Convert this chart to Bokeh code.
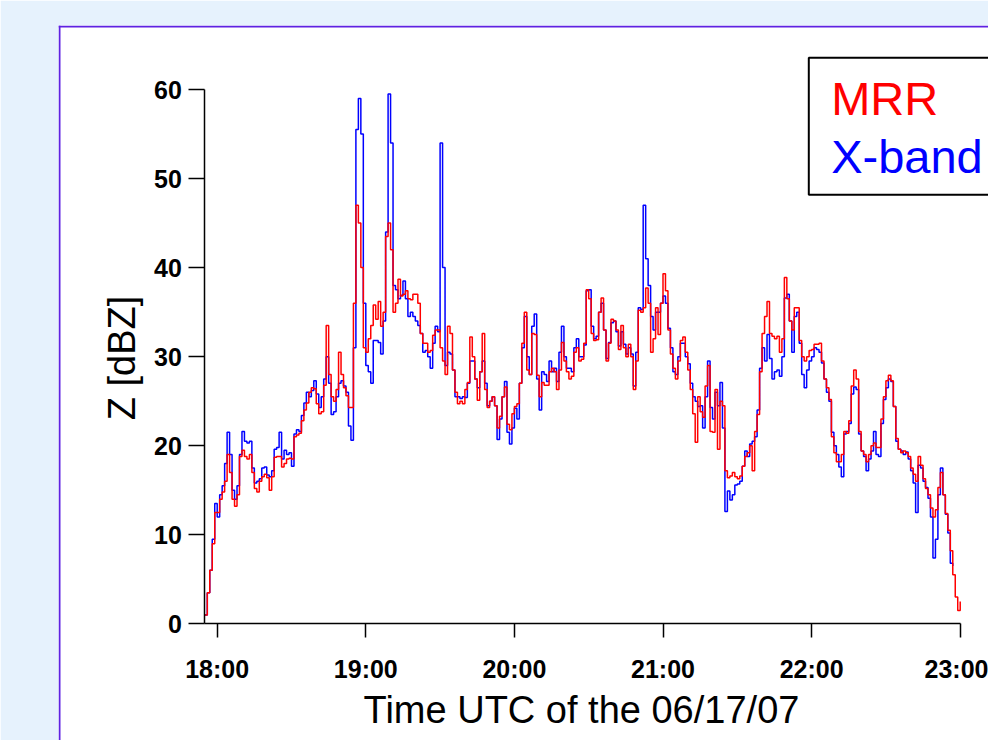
import numpy as np
from math import pi
from bokeh.plotting import figure
from bokeh.models import Range1d, LinearAxis, FixedTicker, Span, Label
from bokeh.embed import file_html
from bokeh.resources import INLINE

# ---------------- data ----------------
start_minute = -5          # first sample, minutes after 18:00 UTC
step_minutes = 1           # one sample per minute

mrr = [
    1.0, 3.5, 6.0, 9.0, 12.5, 12.5, 14.0, 14.8, 16.0, 19.0,
    17.0, 14.0, 13.2, 14.5, 18.8, 19.5, 18.8, 18.5, 19.0, 17.0,
    15.2, 14.8, 16.0, 16.5, 16.8, 16.4, 15.0, 16.5, 18.7, 18.8,
    18.8, 17.6, 18.0, 18.5, 18.6, 18.5, 21.0, 21.2, 21.4, 22.8,
    24.0, 24.8, 26.0, 26.5, 26.4, 24.7, 23.6, 23.8, 26.8, 33.5,
    28.0, 25.5, 25.0, 26.3, 30.5, 28.0, 26.5, 25.6, 24.3, 24.3,
    36.0, 47.0, 45.0, 40.0, 31.0, 30.5, 32.0, 33.5, 35.8, 34.2,
    36.2, 33.4, 35.0, 43.5, 45.0, 42.0, 35.0, 36.0, 38.7, 36.8,
    37.0, 37.4, 36.5, 36.4, 37.0, 37.0, 36.0, 32.6, 31.5, 31.5,
    30.5, 30.7, 32.4, 33.0, 33.0, 31.0, 29.5, 28.0, 33.4, 32.6,
    28.5, 26.0, 24.7, 25.0, 24.7, 26.3, 27.1, 32.2, 30.0, 27.5,
    25.1, 28.3, 32.6, 26.3, 24.3, 25.0, 25.5, 24.5, 22.0, 23.3,
    25.5, 26.6, 22.4, 21.8, 23.6, 24.4, 24.7, 27.0, 31.5, 35.0,
    28.5, 28.0, 32.6, 32.5, 27.9, 25.5, 27.1, 26.8, 26.8, 28.3,
    28.7, 28.3, 26.3, 28.5, 31.6, 29.5, 28.3, 27.5, 27.8, 30.5,
    31.0, 29.5, 29.7, 31.5, 37.5, 36.5, 32.6, 31.8, 31.9, 35.0,
    36.6, 33.0, 29.5, 31.5, 34.2, 34.0, 33.0, 30.8, 33.5, 31.0,
    30.0, 31.4, 30.0, 26.3, 29.5, 35.2, 35.0, 35.5, 37.7, 36.0,
    30.5, 32.0, 35.5, 32.5, 36.0, 39.3, 37.4, 33.0, 30.3, 28.7,
    27.5, 29.5, 31.8, 32.2, 30.5, 28.5, 26.3, 23.6, 20.4, 25.5,
    23.8, 23.2, 26.7, 29.0, 21.6, 21.5, 26.3, 19.6, 25.0, 24.5,
    17.2, 16.4, 16.6, 17.0, 16.5, 16.3, 16.6, 17.7, 18.8, 19.2,
    20.0, 17.2, 21.6, 23.5, 28.3, 32.6, 34.5, 36.2, 32.6, 32.3,
    32.0, 32.3, 30.5, 32.0, 38.9, 36.5, 34.0, 33.0, 35.5, 35.5,
    31.8, 30.0, 29.5, 30.0, 30.7, 30.8, 31.4, 31.4, 31.5, 29.5,
    27.5, 26.5, 25.2, 21.0, 19.2, 18.2, 18.2, 19.0, 21.6, 21.4,
    22.8, 26.7, 28.5, 27.5, 21.6, 19.4, 19.0, 18.2, 19.0, 20.0,
    20.3, 19.8, 19.8, 23.0, 25.5, 27.3, 27.9, 27.3, 24.4, 20.8,
    19.6, 19.2, 19.4, 19.2, 18.8, 17.5, 16.8, 16.0, 18.8, 17.8,
    16.3, 15.2, 14.5, 13.0, 12.0, 12.8, 15.3, 17.0, 14.5, 12.4,
    10.5, 8.2, 5.5, 3.0, 1.5, 2.5,
]

xband = [
    1.0, 3.5, 6.0, 9.5, 13.5, 12.0, 14.5, 15.5, 18.0, 21.5,
    19.0, 15.0, 14.0, 15.5, 19.0, 21.6, 20.5, 20.3, 20.5, 17.5,
    15.8, 16.0, 16.3, 17.5, 17.6, 16.7, 16.5, 17.2, 19.6, 19.8,
    21.5, 18.5, 19.5, 19.0, 19.2, 17.7, 21.3, 21.8, 21.6, 23.4,
    24.8, 26.0, 25.5, 26.2, 27.3, 25.8, 24.3, 25.5, 27.5, 30.0,
    27.0, 23.5, 23.8, 25.5, 27.0, 27.3, 26.7, 26.0, 22.2, 20.6,
    31.0, 55.5, 59.0, 55.0, 36.0, 29.0, 28.3, 27.0, 31.8, 31.8,
    31.6, 30.3, 34.0, 44.0, 59.5, 54.0, 38.0, 37.5, 36.5, 36.9,
    38.5, 36.5, 34.5, 35.0, 34.5, 34.0, 33.5, 32.6, 30.5, 30.7,
    30.0, 28.7, 31.5, 33.4, 32.8, 54.0, 40.0, 29.0, 30.5, 30.3,
    28.5, 25.5, 25.5, 25.3, 25.5, 25.4, 27.0, 29.5, 29.5, 27.5,
    26.5, 28.3, 29.5, 27.0, 24.5, 25.0, 25.5, 24.5, 20.7, 23.0,
    25.5, 27.2, 21.5, 20.2, 22.0, 24.2, 23.0, 27.0, 31.0, 34.5,
    30.0, 28.0, 33.4, 34.8, 27.5, 24.0, 28.3, 28.0, 27.2, 29.5,
    28.3, 28.7, 27.2, 30.5, 33.4, 30.0, 28.7, 28.7, 28.3, 31.0,
    32.0, 30.0, 30.0, 31.3, 37.4, 37.5, 33.4, 32.0, 32.3, 35.0,
    36.0, 33.0, 29.8, 31.6, 33.8, 34.0, 32.8, 31.2, 32.8, 31.4,
    30.3, 31.0, 30.3, 26.7, 30.5, 35.5, 35.3, 47.0, 41.0, 38.0,
    34.5, 33.0, 35.0, 35.0, 36.0, 36.8, 36.0, 33.2, 31.0, 28.3,
    28.0, 30.0, 31.5, 31.5, 30.0, 29.2, 27.0, 25.5, 25.0, 24.4,
    24.5, 22.0, 25.5, 29.5, 24.3, 23.0, 26.0, 24.5, 27.1, 22.0,
    12.6, 14.9, 13.9, 14.5, 15.6, 15.7, 16.0, 17.7, 19.4, 18.8,
    20.2, 20.5, 21.0, 24.0, 28.7, 31.0, 29.5, 32.5, 29.8, 27.5,
    28.3, 28.5, 27.8, 30.0, 36.6, 37.0, 34.0, 30.5, 34.5, 35.0,
    31.5, 28.0, 26.5, 28.5, 29.5, 30.0, 31.0, 30.8, 30.5, 29.3,
    27.5, 26.0, 25.0, 21.5, 20.0, 19.0, 17.6, 16.5, 21.3, 21.6,
    22.5, 25.8, 26.6, 26.3, 21.3, 19.4, 18.8, 17.2, 18.5, 19.4,
    21.6, 19.0, 18.8, 22.5, 25.2, 26.5, 27.5, 27.2, 24.4, 20.5,
    19.6, 19.4, 19.0, 19.3, 18.5, 17.2, 15.8, 12.5, 17.8, 17.5,
    16.0, 15.3, 14.1, 12.0, 7.4, 9.5, 14.5, 17.5, 14.5, 12.3,
    10.2, 6.8, 6.5,
]

x_tick_hours = [18, 19, 20, 21, 22, 23]
x_tick_labels = ["18:00", "19:00", "20:00", "21:00", "22:00", "23:00"]
y_ticks = [0, 10, 20, 30, 40, 50, 60]
x_title = "Time UTC of the 06/17/07"
y_title = "Z [dBZ]"
series_names = ["MRR", "X-band"]
series_colors = ["#ff0000", "#0000ff"]

# ---------------- layout / style ----------------
BG = "#e6f2fd"
PANEL_EDGE = "#5e22e2"
FONT = "Liberation Sans"
W, H = 988, 740

PX_PER_HR = 148.6      # px per hour
X18 = 216.7            # x of 18:00
PX_PER_DB = 8.905      # px per dBZ
Y0 = 623.3             # y of 0 dBZ


def hx(px):
    return 18 + (px - X18) / PX_PER_HR


def vy(py):
    return (Y0 - py) / PX_PER_DB


t_mrr = 18 + (start_minute + step_minutes * np.arange(len(mrr))) / 60.0
t_xb = 18 + (start_minute + step_minutes * np.arange(len(xband))) / 60.0
t_start = 18 + start_minute / 60.0

p = figure(width=W, height=H,
           x_range=Range1d(hx(58), hx(W)), y_range=Range1d(vy(H), vy(25)),
           x_axis_type=None, y_axis_type=None,
           toolbar_location=None, output_backend="svg",
           min_border_left=58, min_border_top=25,
           min_border_right=0, min_border_bottom=0,
           border_fill_color=BG, background_fill_color="white",
           outline_line_color=None)
p.title.visible = False

# panel edges
p.add_layout(Span(location=hx(59), dimension="height",
                  line_color=PANEL_EDGE, line_width=2))
p.add_layout(Span(location=vy(26), dimension="width",
                  line_color=PANEL_EDGE, line_width=2))

common_axis = dict(axis_line_color="black", axis_line_width=1.5,
                   major_tick_line_color="black", major_tick_line_width=1.5,
                   major_tick_in=0, minor_tick_line_color=None,
                   major_label_text_font=FONT, major_label_text_font_size="25px",
                   major_label_text_font_style="bold",
                   major_label_text_color="black")

xa = LinearAxis(fixed_location=0, bounds=(t_start, 23.0),
                ticker=FixedTicker(ticks=x_tick_hours),
                major_label_overrides={h: s for h, s in zip(x_tick_hours, x_tick_labels)},
                major_tick_out=14, major_label_standoff=17, **common_axis)
p.add_layout(xa, "below")

ya = LinearAxis(fixed_location=t_start, bounds=(0, 60),
                ticker=FixedTicker(ticks=y_ticks),
                major_tick_out=16, major_label_standoff=7, **common_axis)
p.add_layout(ya, "left")

# legend box
p.quad(left=hx(808.3), right=hx(1030), top=vy(57.3), bottom=vy(194.3),
       fill_color="white", line_color="black", line_width=2)

# series
p.step(t_xb, xband, mode="after", line_color=series_colors[1], line_width=1.5)
p.step(t_mrr, mrr, mode="after", line_color=series_colors[0], line_width=1.5)

# legend texts
p.add_layout(Label(x=hx(830.7), y=vy(98), text=series_names[0],
                   text_color=series_colors[0], text_font=FONT,
                   text_font_size="47px", text_baseline="alphabetic"))
p.add_layout(Label(x=hx(830.7), y=vy(155.7), text=series_names[1],
                   text_color=series_colors[1], text_font=FONT,
                   text_font_size="47px", text_baseline="alphabetic"))

# axis titles
p.add_layout(Label(x=hx(581), y=vy(709.5), text=x_title, text_color="black",
                   text_font=FONT, text_font_size="38px",
                   text_align="center", text_baseline="alphabetic"))
p.add_layout(Label(x=hx(121.5), y=vy(357.5), text=y_title, angle=pi / 2,
                   text_color="black", text_font=FONT, text_font_size="38px",
                   text_align="center", text_baseline="alphabetic"))

html = file_html(p, INLINE)
html = html.replace("<body>", '<body style="background-color:%s;">' % BG, 1)
open("out.html", "w").write(html)
